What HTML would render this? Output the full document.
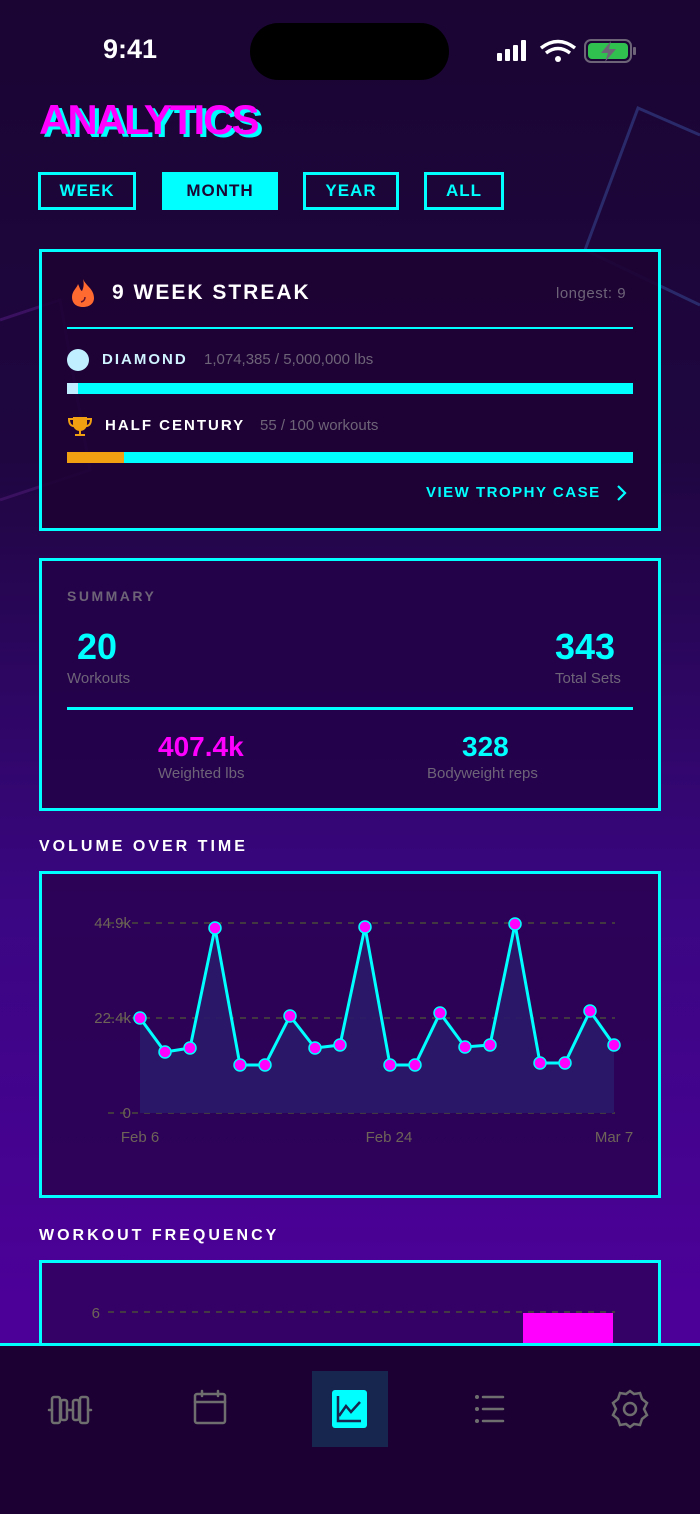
<!DOCTYPE html>
<html><head><meta charset="utf-8"><style>
*{margin:0;padding:0;box-sizing:border-box}
body{width:700px;height:1514px;overflow:hidden;font-family:"Liberation Sans",sans-serif;background:linear-gradient(180deg,#1a0533 0%,#1f0640 30%,#3a0682 60%,#4c0098 86%);position:relative}
.a{position:absolute}
.card{position:absolute;left:39px;width:622px;border:3px solid #00ffff;background:rgba(32,4,58,0.88)}
.btn{position:absolute;top:172px;height:38px;border:3px solid #00ffff;color:#00ffff;font-weight:bold;font-size:17px;letter-spacing:1px;display:flex;align-items:center;justify-content:center}
.gray{color:#6e6478}
.h{font-weight:bold;color:#fff;letter-spacing:2px;font-size:17px}
</style></head><body>
<svg class="a" style="left:0;top:0" width="700" height="1514">
<polyline points="585,250 638,108 700,135" fill="none" stroke="#2a2a6a" stroke-width="3"/>
<polyline points="585,250 700,305" fill="none" stroke="#2a2a6a" stroke-width="3"/>
<polyline points="0,320 60,300 90,470 0,500" fill="none" stroke="#3a1060" stroke-width="3"/>
</svg>
<div class="a" style="left:103px;top:34px;font-size:27px;color:#fff;font-weight:bold">9:41</div>
<div class="a" style="left:250px;top:23px;width:199px;height:57px;border-radius:29px;background:#000"></div>
<svg class="a" style="left:495px;top:38px" width="145" height="26">
<rect x="2" y="15" width="5" height="8" rx="1" fill="#fff"/><rect x="10" y="11" width="5" height="12" rx="1" fill="#fff"/><rect x="18" y="7" width="5" height="16" rx="1" fill="#fff"/><rect x="26" y="2" width="5" height="21" rx="1" fill="#fff"/>
<path d="M46 10 Q63 -3 80 10" stroke="#fff" stroke-width="3.5" fill="none"/><path d="M51 15 Q63 6 75 15" stroke="#fff" stroke-width="3.5" fill="none"/><circle cx="63" cy="21" r="3" fill="#fff"/>
<rect x="90" y="2" width="46" height="22" rx="6" fill="none" stroke="#6e6478" stroke-width="2"/><rect x="93" y="5" width="40" height="16" rx="4" fill="#30c050"/><rect x="138" y="9" width="3" height="8" rx="1" fill="#6e6478"/>
<path d="M116 3 L106 15 L113 15 L110 24 L121 11 L114 11 Z" fill="#6e6478"/>
</svg>
<div class="a" style="left:43px;top:99px;font-size:42px;font-weight:bold;color:#00ffff;letter-spacing:-2px">ANALYTICS</div>
<div class="a" style="left:39px;top:96px;font-size:42px;font-weight:bold;color:#ff00ff;letter-spacing:-2px">ANALYTICS</div>
<div class="btn" style="left:38px;width:98px">WEEK</div>
<div class="btn" style="left:162px;width:116px;background:#00ffff;color:#1a0533">MONTH</div>
<div class="btn" style="left:303px;width:96px">YEAR</div>
<div class="btn" style="left:424px;width:80px">ALL</div>

<div class="card" style="top:249px;height:282px;background:rgba(30,2,52,0.9)"></div>
<svg class="a" style="left:70px;top:278px" width="26" height="30"><path d="M13 1 C16 8 24 11 24 20 C24 26 19 29 13 29 C7 29 2 26 2 19 C2 13 7 10 8 6 C10 10 10 12 12 13 C14 9 14 5 13 1Z" fill="#ff6a30"/><path d="M11 24 Q15 23 15 19" stroke="#60102a" stroke-width="1.5" fill="none"/></svg>
<div class="a h" style="left:112px;top:281px;font-size:21px">9 WEEK STREAK</div>
<div class="a gray" style="left:556px;top:285px;font-size:15px;letter-spacing:0.5px">longest: 9</div>
<div class="a" style="left:67px;top:327px;width:566px;height:2px;background:#00ffff"></div>
<div class="a" style="left:67px;top:349px;width:22px;height:22px;border-radius:50%;background:#c0efff"></div>
<div class="a h" style="left:102px;top:351px;font-size:15px;color:#d0f4ff">DIAMOND</div>
<div class="a gray" style="left:204px;top:351px;font-size:15px">1,074,385 / 5,000,000 lbs</div>
<div class="a" style="left:67px;top:383px;width:566px;height:11px;background:#00ffff"></div>
<div class="a" style="left:67px;top:383px;width:11px;height:11px;background:#c0efff"></div>
<svg class="a" style="left:67px;top:416px" width="26" height="22"><path d="M6 1 H20 V8 C20 13 16 15 13 15 C10 15 6 13 6 8Z" fill="#f0a010"/><path d="M6 3 H2 C2 9 5 10 7 10 M20 3 H24 C24 9 21 10 19 10" stroke="#f0a010" stroke-width="2" fill="none"/><rect x="12" y="14" width="2" height="5" fill="#f0a010"/><rect x="8" y="18" width="10" height="2" fill="#f0a010"/></svg>
<div class="a h" style="left:105px;top:417px;font-size:15px">HALF CENTURY</div>
<div class="a gray" style="left:260px;top:417px;font-size:15px">55 / 100 workouts</div>
<div class="a" style="left:67px;top:452px;width:566px;height:11px;background:#00ffff"></div>
<div class="a" style="left:67px;top:452px;width:57px;height:11px;background:#f0a010"></div>
<div class="a" style="left:426px;top:484px;font-size:15px;font-weight:bold;color:#00ffff;letter-spacing:1.5px">VIEW TROPHY CASE</div>
<svg class="a" style="left:616px;top:484px" width="12" height="18"><path d="M2 2 L9 9 L2 16" stroke="#00ffff" stroke-width="2.2" fill="none"/></svg>

<div class="card" style="top:558px;height:253px;background:rgba(36,2,72,0.9)"></div>
<div class="a gray" style="left:67px;top:588px;font-size:14px;font-weight:bold;letter-spacing:2.5px">SUMMARY</div>
<div class="a" style="left:77px;top:626px;font-size:36px;font-weight:bold;color:#00ffff">20</div>
<div class="a gray" style="left:67px;top:670px;font-size:15px">Workouts</div>
<div class="a" style="left:555px;top:626px;font-size:36px;font-weight:bold;color:#00ffff">343</div>
<div class="a gray" style="left:555px;top:670px;font-size:15px">Total Sets</div>
<div class="a" style="left:67px;top:707px;width:566px;height:3px;background:#00ffff"></div>
<div class="a" style="left:158px;top:731px;font-size:28px;font-weight:bold;color:#ff00ff">407.4k</div>
<div class="a gray" style="left:158px;top:765px;font-size:15px">Weighted lbs</div>
<div class="a" style="left:462px;top:731px;font-size:28px;font-weight:bold;color:#00ffff">328</div>
<div class="a gray" style="left:427px;top:765px;font-size:15px">Bodyweight reps</div>

<div class="a h" style="left:39px;top:838px;font-size:16px;letter-spacing:3px">VOLUME OVER TIME</div>
<div class="card" style="top:871px;height:327px;background:rgba(42,2,82,0.9)"></div>
<svg class="a" style="left:0;top:0" width="700" height="1514">
<g stroke="#4a4a3a" stroke-width="1.5" stroke-dasharray="6,6"><line x1="108" y1="923" x2="615" y2="923"/><line x1="108" y1="1018" x2="615" y2="1018"/><line x1="108" y1="1113" x2="615" y2="1113"/></g>
<g fill="#6e6458" font-size="15" font-family="Liberation Sans" text-anchor="end"><text x="131" y="928">44.9k</text><text x="131" y="1023">22.4k</text><text x="131" y="1118">0</text>
<text x="140" y="1142" text-anchor="middle">Feb 6</text><text x="389" y="1142" text-anchor="middle">Feb 24</text><text x="614" y="1142" text-anchor="middle">Mar 7</text></g>
<polygon fill="#2a1a6a" opacity="0.9" points="140,1113 140,1018 165,1052 190,1048 215,928 240,1065 265,1065 290,1016 315,1048 340,1045 365,927 390,1065 415,1065 440,1013 465,1047 490,1045 515,924 540,1063 565,1063 590,1011 614,1045 614,1113"/>
<polyline fill="none" stroke="#00ffff" stroke-width="3" points="140,1018 165,1052 190,1048 215,928 240,1065 265,1065 290,1016 315,1048 340,1045 365,927 390,1065 415,1065 440,1013 465,1047 490,1045 515,924 540,1063 565,1063 590,1011 614,1045"/>
<g fill="#ff00ff" stroke="#00ffff" stroke-width="1.5">
<circle cx="140" cy="1018" r="6"/><circle cx="165" cy="1052" r="6"/><circle cx="190" cy="1048" r="6"/><circle cx="215" cy="928" r="6"/><circle cx="240" cy="1065" r="6"/><circle cx="265" cy="1065" r="6"/><circle cx="290" cy="1016" r="6"/><circle cx="315" cy="1048" r="6"/><circle cx="340" cy="1045" r="6"/><circle cx="365" cy="927" r="6"/><circle cx="390" cy="1065" r="6"/><circle cx="415" cy="1065" r="6"/><circle cx="440" cy="1013" r="6"/><circle cx="465" cy="1047" r="6"/><circle cx="490" cy="1045" r="6"/><circle cx="515" cy="924" r="6"/><circle cx="540" cy="1063" r="6"/><circle cx="565" cy="1063" r="6"/><circle cx="590" cy="1011" r="6"/><circle cx="614" cy="1045" r="6"/></g>
</svg>

<div class="a h" style="left:39px;top:1227px;font-size:16px;letter-spacing:3px">WORKOUT FREQUENCY</div>
<div class="card" style="top:1260px;height:120px;background:rgba(50,2,96,0.9)"></div>
<svg class="a" style="left:0;top:0" width="700" height="1514">
<line x1="108" y1="1312" x2="615" y2="1312" stroke="#4a4a3a" stroke-width="1.5" stroke-dasharray="6,6"/>
<text x="100" y="1318" fill="#6e6458" font-size="15" font-family="Liberation Sans" text-anchor="end">6</text>
<rect x="523" y="1313" width="90" height="40" fill="#ff00ff"/>
</svg>

<div class="a" style="left:0;top:1343px;width:700px;height:171px;background:#1c0033;border-top:3px solid #00ffff"></div>
<div class="a" style="left:312px;top:1371px;width:76px;height:76px;background:#16264e"></div>
<svg class="a" style="left:0;top:0" width="700" height="1514">
<g stroke="#6e6e6e" stroke-width="2.5" fill="none" stroke-linecap="round">
<rect x="52" y="1397" width="8" height="26" rx="2"/><rect x="61" y="1400" width="6" height="20" rx="2"/><rect x="80" y="1397" width="8" height="26" rx="2"/><rect x="73" y="1400" width="6" height="20" rx="2"/><line x1="67" y1="1410" x2="73" y2="1410"/><line x1="49" y1="1410" x2="52" y2="1410"/><line x1="88" y1="1410" x2="91" y2="1410"/>
<rect x="195" y="1394" width="30" height="29" rx="2"/><line x1="195" y1="1402" x2="225" y2="1402"/><line x1="202" y1="1391" x2="202" y2="1396"/><line x1="218" y1="1391" x2="218" y2="1396"/>
<line x1="483" y1="1397" x2="503" y2="1397"/><line x1="483" y1="1409" x2="503" y2="1409"/><line x1="483" y1="1421" x2="503" y2="1421"/>
<circle cx="630" cy="1409" r="6"/><path d="M630 1391 l4 3 l6 -1 l2 6 l5 4 l-3 6 l3 6 l-5 4 l-2 6 l-6 -1 l-4 3 l-4 -3 l-6 1 l-2 -6 l-5 -4 l3 -6 l-3 -6 l5 -4 l2 -6 l6 1z"/>
</g>
<g fill="#6e6e6e"><circle cx="477" cy="1397" r="2"/><circle cx="477" cy="1409" r="2"/><circle cx="477" cy="1421" r="2"/></g>
<rect x="332" y="1390" width="35" height="38" rx="3" fill="#00ffff"/>
<path d="M338 1396 V1421 H361 M339 1416 L346 1406 L351 1412 L360 1402" stroke="#16264e" stroke-width="2.5" fill="none"/>
</svg>
</body></html>
